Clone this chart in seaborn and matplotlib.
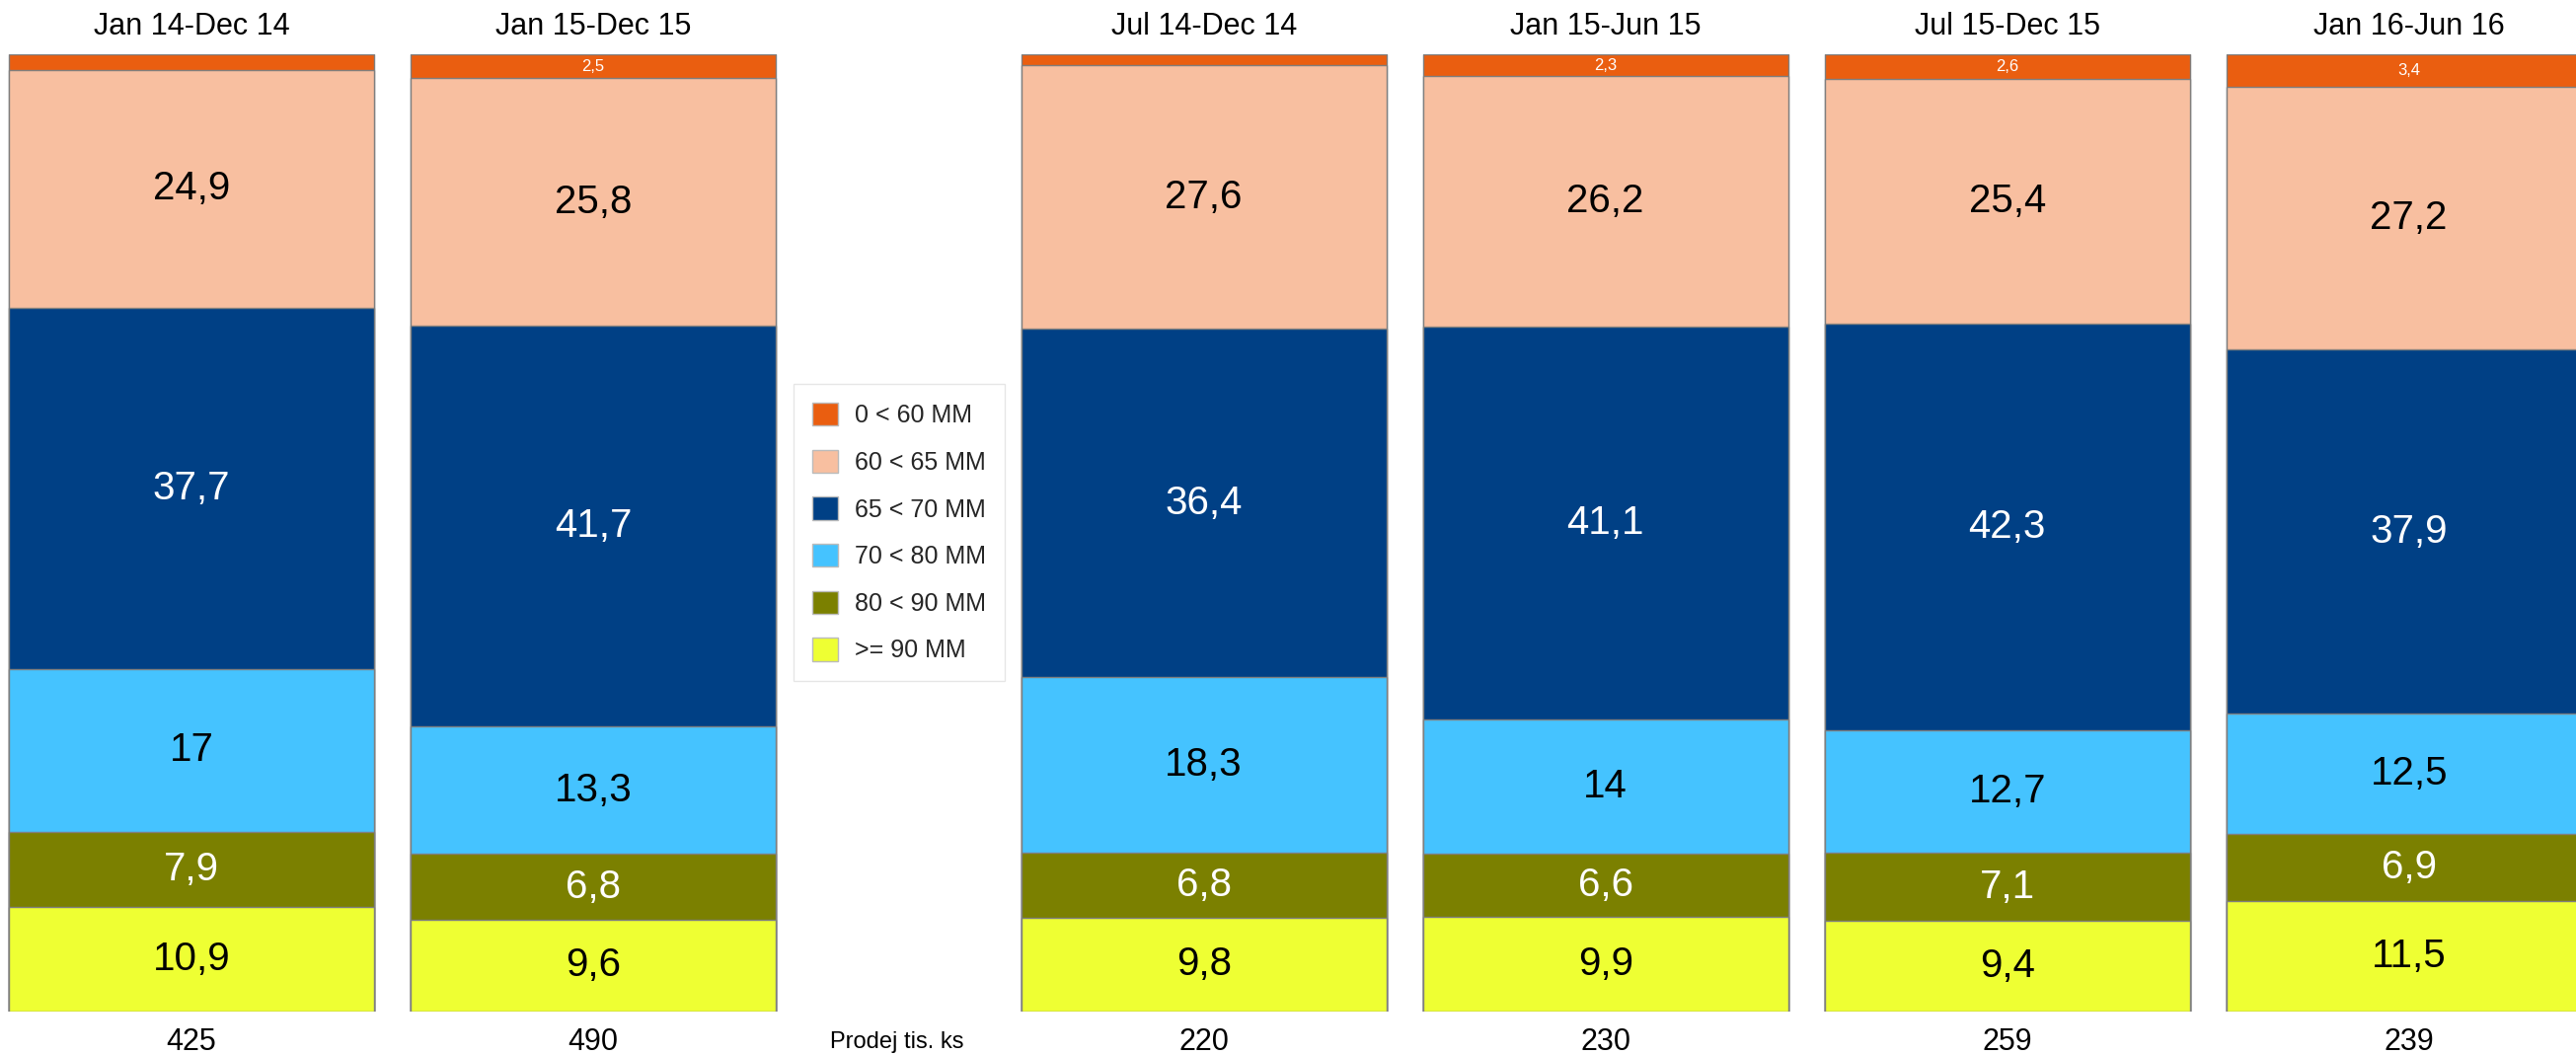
import numpy as np
import pandas as pd
import matplotlib
matplotlib.use("Agg")
import matplotlib.pyplot as plt
import seaborn as sns
from matplotlib.patches import Patch

# data, bars from left to right
periods = ['Jan 14-Dec 14', 'Jan 15-Dec 15', 'Jul 14-Dec 14',
           'Jan 15-Jun 15', 'Jul 15-Dec 15', 'Jan 16-Jun 16']
sales = [425, 490, 220, 230, 259, 239]
sales_label = 'Prodej tis. ks'

# categories from top of the bar to the bottom
categories = ['0 < 60 MM', '60 < 65 MM', '65 < 70 MM', '70 < 80 MM', '80 < 90 MM', '>= 90 MM']
share_0_60 = [1.6, 2.5, 1.1, 2.3, 2.6, 3.4]
share_60_65 = [24.9, 25.8, 27.6, 26.2, 25.4, 27.2]
share_65_70 = [37.7, 41.7, 36.4, 41.1, 42.3, 37.9]
share_70_80 = [17.0, 13.3, 18.3, 14.0, 12.7, 12.5]
share_80_90 = [7.9, 6.8, 6.8, 6.6, 7.1, 6.9]
share_90 = [10.9, 9.6, 9.8, 9.9, 9.4, 11.5]

colors = ['#EA5E10', '#F8BFA0', '#004085', '#45C3FF', '#7B8000', '#EEFF33']
text_colors = ['white', 'black', 'white', 'black', 'white', 'black']

# bar slots: legend sits in a gap between the 2nd and 3rd bar
pos = [0, 1, 2.52, 3.52, 4.52, 5.52]
legend_slot = 1.755

df = pd.DataFrame({
    'pos': pos,
    categories[0]: share_0_60,
    categories[1]: share_60_65,
    categories[2]: share_65_70,
    categories[3]: share_70_80,
    categories[4]: share_80_90,
    categories[5]: share_90,
})
vals = df[categories].to_numpy()
pct = vals / vals.sum(axis=1, keepdims=True) * 100  # 100% stacked

sns.set_theme(style='white')
plt.rcParams['font.family'] = ['Liberation Sans', 'DejaVu Sans']

fig = plt.figure(figsize=(26.1, 10.69), dpi=100)
ax = fig.add_axes([0, 44 / 1069, 1, 970 / 1069])

# overlapping cumulative bars, tallest first (top segment), so every segment shows
bar_w = 0.909
for i, cat in enumerate(categories):
    top = pct[:, i:].sum(axis=1)
    sns.barplot(x=df['pos'], y=top, native_scale=True, color=colors[i],
                saturation=1, width=bar_w, edgecolor='#7F7F7F', linewidth=1.0,
                errorbar=None, ax=ax)

# segment labels
for j in range(len(pos)):
    for i, cat in enumerate(categories):
        v = vals[j, i]
        if v < 2:
            continue
        lo = pct[j, i + 1:].sum()
        mid = lo + pct[j, i] / 2
        fs = 12 if i == 0 else 29
        ax.text(pos[j], mid, f'{v:g}'.replace('.', ','), ha='center', va='center',
                fontsize=fs, color=text_colors[i])

# titles and sales numbers
for j in range(len(pos)):
    ax.text(pos[j], 102.9, periods[j], ha='center', va='center', fontsize=22,
            color='black', clip_on=False)
    ax.text(pos[j], -3.2, str(sales[j]), ha='center', va='center', fontsize=22,
            color='black', clip_on=False)
ax.text(legend_slot, -3.2, sales_label, ha='center', va='center', fontsize=17,
        color='black', clip_on=False)

ax.set_xlim(-0.4767, 5.936)
ax.set_ylim(0, 100)
ax.axis('off')

handles = [Patch(facecolor=c, edgecolor='#BBBBBB', linewidth=1.0) for c in colors]
fig.legend(handles, categories, loc='center', bbox_to_anchor=(0.349, 0.495),
           fontsize=18, frameon=True, fancybox=False, edgecolor='#E0E0E0',
           handlelength=1.05, handleheight=1.05, handletextpad=0.7,
           labelspacing=0.9, borderpad=0.75, borderaxespad=0)

fig.savefig('out.png', dpi=100, facecolor='white')
